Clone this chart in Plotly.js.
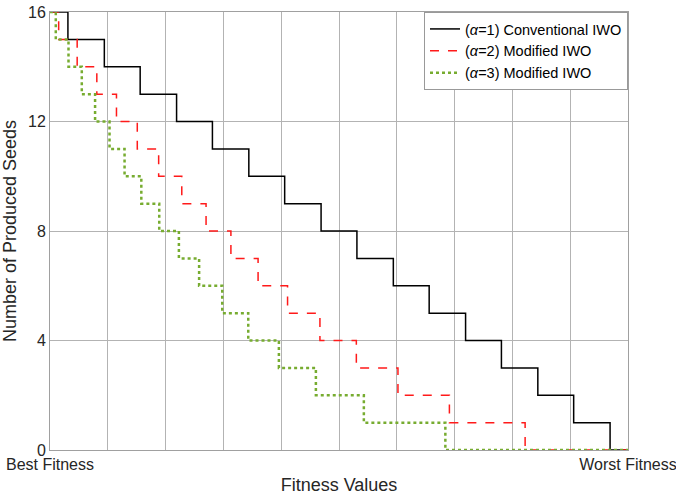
<!DOCTYPE html>
<html><head><meta charset="utf-8">
<script src="https://cdn.plot.ly/plotly-3.0.1.min.js"></script>
<style>html,body{margin:0;padding:0;background:#fff;}</style>
</head><body>
<div id="chart" style="width:676px;height:497px;"></div>
<script>
// Seed levels (y) for each step
const seedLevels = [16,15,14,13,12,11,10,9,8,7,6,5,4,3,2,1,0];
// Normalized fitness at which each series drops to the next level
const breaksAlpha1 = [0.031,0.094,0.156,0.219,0.281,0.344,0.406,0.469,0.531,0.594,0.656,0.719,0.781,0.844,0.906,0.969];
const breaksAlpha2 = [0.015,0.047,0.081,0.115,0.151,0.188,0.228,0.270,0.313,0.360,0.411,0.467,0.530,0.602,0.691,0.822];
const breaksAlpha3 = [0.010,0.032,0.055,0.078,0.103,0.129,0.158,0.189,0.223,0.258,0.298,0.343,0.396,0.460,0.543,0.684];
const seriesNames = ['(<i>α</i>=1) Conventional IWO','(<i>α</i>=2) Modified IWO','(<i>α</i>=3) Modified IWO'];
const xTickVals = [0,0.1,0.2,0.3,0.4,0.5,0.6,0.7,0.8,0.9,1];
const xTickText = ['Best Fitness','','','','','','','','','','Worst Fitness'];
const yTickVals = [0,4,8,12,16];

function stepXY(breaks){
  return {x:[0].concat(breaks).concat([1]), y:seedLevels.concat([0])};
}
const styles = [
  {color:'#000000', width:1.5, dash:'solid'},
  {color:'#ff1a1a', width:1.5, dash:'dash'},
  {color:'#77ac30', width:2.5, dash:'dot'}
];
const allBreaks = [breaksAlpha1, breaksAlpha2, breaksAlpha3];
const traces = allBreaks.map((b,i)=>{
  const d = stepXY(b);
  return {x:d.x, y:d.y, type:'scatter', mode:'lines', name:seriesNames[i],
          line:{color:styles[i].color, width:styles[i].width, dash:styles[i].dash, shape:'hv'}};
});
const font = 'Liberation Sans, Arial, Helvetica, sans-serif';
const layout = {
  width:676, height:497,
  margin:{l:50, r:48, t:12, b:47},
  paper_bgcolor:'#fff', plot_bgcolor:'#fff',
  font:{family:font, size:16, color:'#262626'},
  showlegend:true,
  legend:{x:1, y:1, xanchor:'right', yanchor:'top', bgcolor:'#fff', bordercolor:'#999', borderwidth:1,
          font:{family:font, size:14.5, color:'#000'}, tracegroupgap:0, itemwidth:30},
  xaxis:{range:[0,1], tickmode:'array', tickvals:xTickVals, ticktext:xTickText,
         ticklabeloverflow:'allow',
         showgrid:true, gridcolor:'#b3b3b3', gridwidth:1, zeroline:false,
         showline:true, linecolor:'#a0a0a0', linewidth:1, mirror:true, ticks:'',
         tickfont:{size:16, color:'#262626'},
         title:{text:'Fitness Values', font:{size:18, color:'#262626'}, standoff:6}},
  yaxis:{range:[0,16], tickmode:'array', tickvals:yTickVals,
         showgrid:true, gridcolor:'#b3b3b3', gridwidth:1, zeroline:false,
         showline:true, linecolor:'#a0a0a0', linewidth:1, mirror:true, ticks:'',
         tickfont:{size:16, color:'#262626'},
         title:{text:'Number of Produced Seeds', font:{size:18, color:'#262626'}, standoff:8}}
};
Plotly.newPlot('chart', traces, layout, {displayModeBar:false, staticPlot:true});
</script>
</body></html>
